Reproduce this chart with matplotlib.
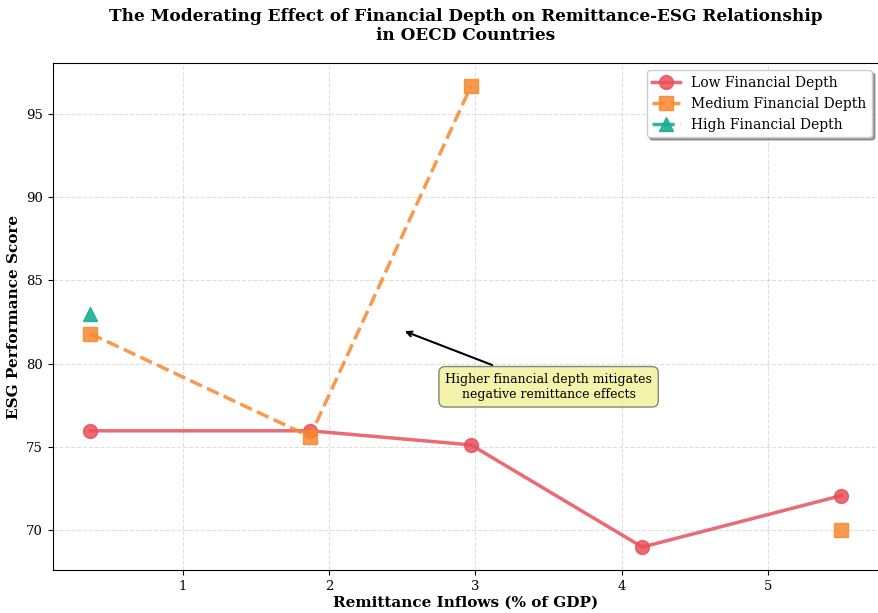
import numpy as np
import matplotlib.pyplot as plt

plt.rcParams["font.family"] = ["DejaVu Serif"]

# remittance inflows (% of GDP)
remit = [0.37, 1.87, 2.97, 4.14, 5.50]
low_esg = [75.95, 75.95, 75.1, 68.95, 72.05]
medium_esg = [81.8, 75.6, 96.7, np.nan, 70.0]
high_esg = [83.0, np.nan, np.nan, np.nan, np.nan]

fig = plt.figure(figsize=(8.79, 6.13), dpi=100)
ax = fig.add_axes([0.060, 0.070, 0.940, 0.827])

ax.plot(remit, low_esg, '-o', color='#e8505b', lw=2.5, ms=10, alpha=0.85,
        label='Low Financial Depth')
ax.plot(remit, medium_esg, '--s', color='#f7882f', lw=2.5, ms=10, alpha=0.85,
        label='Medium Financial Depth')
ax.plot(remit, high_esg, '-.^', color='#1aae8f', lw=2.5, ms=10, alpha=0.9,
        label='High Financial Depth')

ax.annotate('Higher financial depth mitigates\nnegative remittance effects',
            xy=(2.5, 82.0), xytext=(3.5, 78.6), ha='center', va='center',
            fontsize=9,
            bbox=dict(boxstyle='round,pad=0.5', fc='#eeee88', ec='#555555', alpha=0.7),
            arrowprops=dict(arrowstyle='->', color='black', lw=1.5))

ax.set_xlabel('Remittance Inflows (% of GDP)', fontsize=11, fontweight='bold', labelpad=2)
ax.set_ylabel('ESG Performance Score', fontsize=11, fontweight='bold')
ax.set_title('The Moderating Effect of Financial Depth on Remittance-ESG Relationship\nin OECD Countries',
             fontsize=12.2, fontweight='bold', pad=16.5)
ax.grid(True, ls='--', alpha=0.4)
ax.tick_params(labelsize=9.5)
ax.legend(loc='upper right', fontsize=10, shadow=True, frameon=True)

plt.savefig('out.png', dpi=100)
